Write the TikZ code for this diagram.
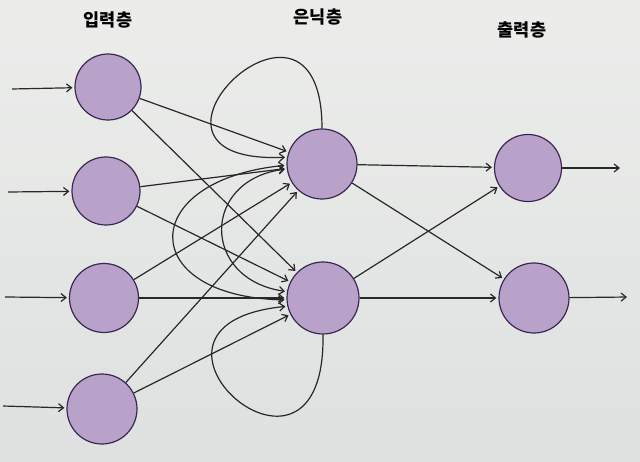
\documentclass[tikz,border=0pt]{standalone}
\usepackage{fontspec}
\newfontfamily\krfont{Noto Sans CJK KR}
\usetikzlibrary{arrows.meta}
\definecolor{bgtop}{RGB}{236,237,235}
\definecolor{bgbot}{RGB}{222,225,224}
\definecolor{nodefill}{RGB}{184,162,201}
\definecolor{nodeedge}{RGB}{58,40,82}
\definecolor{linecol}{RGB}{40,40,40}
\begin{document}
\begin{tikzpicture}[x=1pt,y=-1pt,
  neuron/.style={circle, draw=nodeedge, fill=nodefill, line width=1.2pt, inner sep=0pt},
  tip/.tip={Straight Barb[length=5pt,width=8pt]},
  conn/.style={draw=linecol, line width=1.2pt, -tip, shorten >=2pt},
  bothways/.style={draw=linecol, line width=1.2pt, tip-tip, shorten >=2pt, shorten <=2pt},
  lbl/.style={font=\krfont\bfseries\fontsize{17.5}{20}\selectfont, text=black}]
\shade[top color=bgtop, bottom color=bgbot] (0,0) rectangle (640,462);
\useasboundingbox (0,0) rectangle (640,462);
% labels
\node[lbl] (L1) at (108,20) {입력층};
\node[lbl] (L2) at (318,17) {은닉층};
\node[lbl] (L3) at (522,30) {출력층};
% nodes
\node[neuron, minimum size=66pt] (I1) at (108,87) {};
\node[neuron, minimum size=68pt] (I2) at (106,191) {};
\node[neuron, minimum size=69pt] (I3) at (104,298) {};
\node[neuron, minimum size=70pt] (I4) at (102,409) {};
\node[neuron, minimum size=70pt] (H1) at (322,164) {};
\node[neuron, minimum size=72pt] (H2) at (323,298) {};
\node[neuron, minimum size=67pt] (O1) at (528,168) {};
\node[neuron, minimum size=70pt] (O2) at (534,298) {};
% free ends
\coordinate (a1) at (12,89);
\coordinate (a2) at (8,192);
\coordinate (a3) at (5,297);
\coordinate (a4) at (3,406);
\coordinate (b1) at (622,168);
\coordinate (b2) at (629,297);
% input arrows
\foreach \k in {1,...,4} \draw[conn] (a\k) -- (I\k);
% input to hidden
\foreach \i in {1,...,4} {
  \draw[conn] (I\i) -- (H1);
  \draw[conn] (I\i) -- (H2);
}
% hidden to output
\foreach \h in {1,2} {
  \draw[conn] (H\h) -- (O1);
  \draw[conn] (H\h) -- (O2);
}
\draw[conn] (O1) -- (b1);
\draw[conn] (O2) -- (b2);
% recurrent loops
\draw[conn] (H1.north) .. controls (322,-50) and (100,165) .. (H1.169);
\draw[conn] (H2.south) .. controls (326,525) and (100,325) .. (H2.193);
% recurrent links between hidden units
\draw[bothways] (H1.182) .. controls (136,180) and (136,297) .. (H2.183);
\draw[bothways] (H1.188) .. controls (201,180) and (201,279) .. (H2.170);
\end{tikzpicture}
\end{document}
